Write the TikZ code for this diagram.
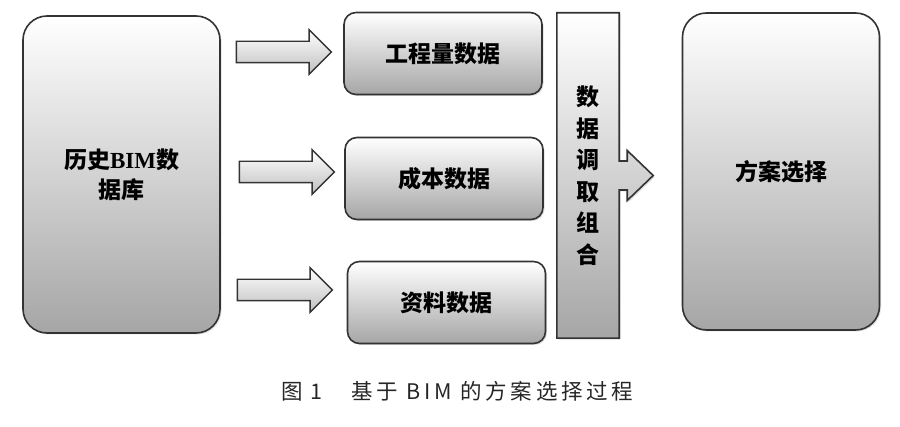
\documentclass[tikz,border=0pt]{standalone}
\usepackage{fontspec}
\setmainfont{Liberation Serif}
\newfontfamily\cjk{Noto Sans CJK SC}
\newfontfamily\cjkcap[LetterSpace=17]{Noto Sans CJK SC}
\usepackage{tikz}
\usetikzlibrary{shapes.arrows,shadows,calc,backgrounds}

\begin{document}
\begin{tikzpicture}[
    x=1pt, y=1pt,
    bignode/.style={
        draw=black!80,
        top color=white,
        bottom color=black!35,
        rounded corners=24pt,
        line width=1.6pt,
        minimum width=197pt,
        minimum height=317pt,
        inner sep=0pt,
        font=\cjk\bfseries\fontsize{23}{30}\selectfont,
        align=center,
        drop shadow={opacity=0.25, shadow xshift=1.5pt, shadow yshift=-1.5pt}
    },
    datanode/.style={
        draw=black!80,
        top color=white,
        bottom color=black!35,
        rounded corners=12pt,
        line width=1.6pt,
        minimum width=198pt,
        minimum height=82pt,
        inner sep=0pt,
        font=\cjk\bfseries\fontsize{23}{30}\selectfont,
        drop shadow={opacity=0.25, shadow xshift=1.5pt, shadow yshift=-1.5pt}
    },
    flowarrow/.style={
        single arrow,
        draw=black!80,
        top color=white,
        bottom color=black!25,
        line width=1.4pt,
        minimum height=95pt,
        single arrow head extend=11.5pt,
        single arrow head indent=0pt,
        inner xsep=0pt,
        inner ysep=10pt
    }
]
    \useasboundingbox (0,0) rectangle (900,426);

    % Historical database
    \node[bignode] (hist) at (121.5,251.5) {历史{\rmfamily\bfseries BIM}数\\据库};

    % Data groups
    \node[datanode] (qty)  at (443,372.5) {工程量数据};
    \node[datanode] (cost) at (444,247.5) {成本数据};
    \node[datanode] (docs) at (446.5,123.5) {资料数据};

    % Arrows from database
    \node[flowarrow] (a1) at (278.5,374) {};
    \node[flowarrow] (a2) at (281.5,254) {};
    \node[flowarrow] (a3) at (279.5,136) {};

    % Combination bar with arrow
    \node[minimum width=62pt, minimum height=325pt, inner sep=0pt, align=center,
          font=\cjk\bfseries\fontsize{23}{31.5}\selectfont] (combo) at (588,250.5)
        {数\\据\\调\\取\\组\\合};
    \begin{scope}[on background layer]
        \draw[draw=black!80, line width=1.6pt, top color=white, bottom color=black!35,
              drop shadow={opacity=0.25, shadow xshift=1.5pt, shadow yshift=-1.5pt}]
            (combo.north west) -- (combo.north east)
            -- ($(combo.east)+(0,14.5)$) -- ++(8,0) -- ++(0,10.5)
            -- ($(combo.east)+(34,0)$)
            -- ($(combo.east)+(8,-25)$) -- ++(0,10.5) -- ($(combo.east)+(0,-14.5)$)
            -- (combo.south east) -- (combo.south west) -- cycle;
    \end{scope}

    % Scheme selection
    \node[bignode] (plan) at (781,254.5) {方案选择};

    % Caption
    \node[font=\cjkcap\fontsize{21.5}{22}\selectfont, text=black!85] (caption) at (457,35)
        {图 1　基于 BIM 的方案选择过程};
\end{tikzpicture}
\end{document}
